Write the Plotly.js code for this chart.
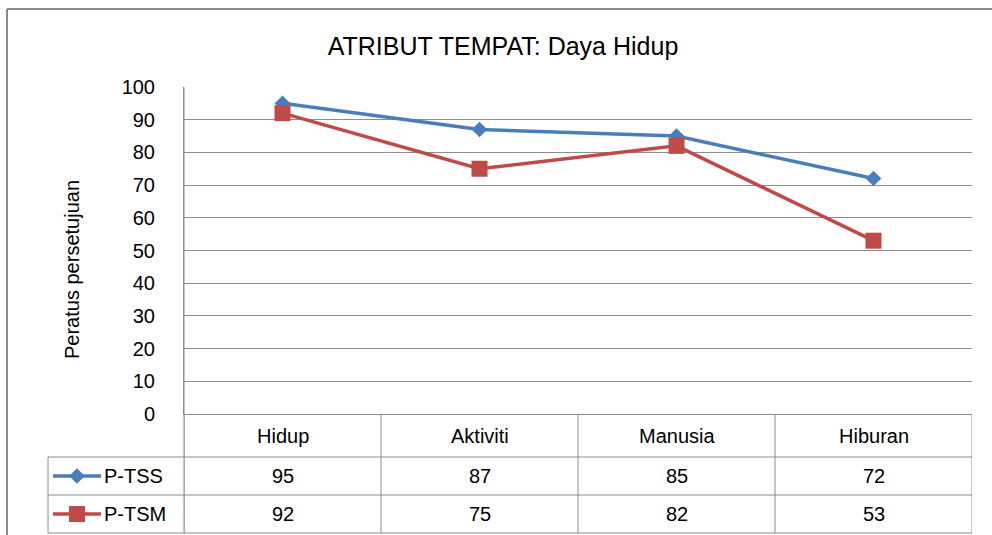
<!DOCTYPE html>
<html>
<head>
<meta charset="utf-8">
<script src="https://cdn.plot.ly/plotly-3.0.1.min.js"></script>
<style>html,body{margin:0;padding:0;background:#fff;}#chart{width:992px;height:535px;}</style>
</head>
<body>
<div id="chart"></div>
<script>
const categories = ["Hidup", "Aktiviti", "Manusia", "Hiburan"];
const seriesNames = ["P-TSS", "P-TSM"];
const pTSS = [95, 87, 85, 72];
const pTSM = [92, 75, 82, 53];
const yTicks = [0, 10, 20, 30, 40, 50, 60, 70, 80, 90, 100];
const chartTitle = "ATRIBUT TEMPAT: Daya Hidup";
const yTitle = "Peratus persetujuan";

const W = 992, H = 535;
const px = v => v / W;
const py = v => (H - v) / H;

const FONT = "Liberation Sans, Arial, sans-serif";
const BLUE = "#4A7EBB", RED = "#BE4B48";
const GRID = "#8c8c8c";

// plot area pixels
const L = 184, R = 972, T = 87, B = 414;
const tableLeft = 48, row1 = 457, row2 = 495, row3 = 533;

const seriesVals = [pTSS, pTSM];
const colors = [BLUE, RED];
const symbols = ["diamond", "square"];
const msizes = [12, 16];

const traces = [];
seriesVals.forEach((vals, i) => {
  traces.push({
    type: "scatter", mode: "lines+markers", x: categories, y: vals, name: seriesNames[i],
    line: {color: colors[i], width: 3.5}, marker: {symbol: symbols[i], size: msizes[i], color: colors[i]},
    xaxis: "x", yaxis: "y", showlegend: false, cliponaxis: false
  });
});
// legend keys inside the data table
seriesVals.forEach((vals, i) => {
  traces.push({
    type: "scatter", mode: "lines", x: [0, 1], y: [1.5 - i, 1.5 - i],
    line: {color: colors[i], width: 3.5},
    xaxis: "x2", yaxis: "y2", showlegend: false, hoverinfo: "skip", cliponaxis: false
  });
  traces.push({
    type: "scatter", mode: "markers", x: [0.5], y: [1.5 - i],
    marker: {symbol: symbols[i], size: msizes[i], color: colors[i]},
    xaxis: "x2", yaxis: "y2", showlegend: false, hoverinfo: "skip", cliponaxis: false
  });
});

const shapes = [];
const line = (x0, y0, x1, y1, xref, yref, color, width) =>
  shapes.push({type: "line", x0, y0, x1, y1, xref: xref || "paper", yref: yref || "paper",
    line: {color: color || GRID, width: width || 1}, layer: "above"});

// outer border (top, left)
line(px(7), py(9), px(1000), py(9), "paper", "paper", "#8a8a8a", 2);
line(px(7), py(9), px(7), py(540), "paper", "paper", "#8a8a8a", 2);

// table horizontal lines
line(px(tableLeft), py(row1), px(R), py(row1));
line(px(tableLeft), py(row2), px(R), py(row2));
line(px(tableLeft), py(row3), px(R), py(row3));
line(px(tableLeft), py(row1), px(tableLeft), py(row3));
// table vertical lines at category boundaries
for (let i = 0; i <= categories.length; i++) {
  shapes.push({type: "line", xref: "x", yref: "paper", x0: i - 0.5, x1: i - 0.5,
    y0: py(B), y1: py(row3), line: {color: GRID, width: 1}});
}
// left axis continuation
line(px(L), py(T), px(L), py(row3));

const annotations = [];
const TXT = 20;
categories.forEach((c, i) => {
  annotations.push({xref: "x", yref: "paper", x: i, y: py((B + row1) / 2), text: c, showarrow: false,
    font: {family: FONT, size: TXT, color: "#000"}, xanchor: "center", yanchor: "middle"});
  seriesVals.forEach((vals, s) => {
    const yc = s === 0 ? (row1 + row2) / 2 : (row2 + row3) / 2;
    annotations.push({xref: "x", yref: "paper", x: i, y: py(yc), text: String(vals[i]), showarrow: false,
      font: {family: FONT, size: TXT, color: "#000"}, xanchor: "center", yanchor: "middle"});
  });
});
seriesNames.forEach((n, s) => {
  const yc = s === 0 ? (row1 + row2) / 2 : (row2 + row3) / 2;
  annotations.push({xref: "paper", yref: "paper", x: px(102), y: py(yc), text: n, showarrow: false,
    font: {family: FONT, size: TXT, color: "#000"}, xanchor: "left", yanchor: "middle"});
});
annotations.push({xref: "paper", yref: "paper", x: px(72), y: py(270), text: yTitle, textangle: -90,
  showarrow: false, font: {family: FONT, size: TXT, color: "#000"}, xanchor: "center", yanchor: "middle"});

const layout = {
  width: W, height: H,
  margin: {l: 0, r: 0, t: 0, b: 0, pad: 0},
  paper_bgcolor: "#fff", plot_bgcolor: "#fff",
  title: {text: chartTitle, x: px(503), y: py(46), xref: "paper", yref: "paper",
    xanchor: "center", yanchor: "middle", font: {family: FONT, size: 25, color: "#000"}},
  xaxis: {domain: [px(L), px(R)], type: "category", range: [-0.5, 3.5], showticklabels: false,
    showgrid: false, zeroline: false, showline: true, linecolor: GRID, linewidth: 1, ticks: "", fixedrange: true},
  yaxis: {domain: [py(B), py(T)], range: [0, 100], tickvals: yTicks, ticktext: yTicks.map(String),
    showgrid: true, gridcolor: GRID, gridwidth: 1, zeroline: false, showline: true, linecolor: GRID,
    ticks: "", ticklabelstandoff: 24, tickfont: {family: FONT, size: TXT, color: "#000"}, fixedrange: true},
  xaxis2: {domain: [px(53), px(101)], range: [0, 1], visible: false, anchor: "y2", fixedrange: true},
  yaxis2: {domain: [py(row3), py(row1)], range: [0, 2], visible: false, anchor: "x2", fixedrange: true},
  shapes, annotations,
  showlegend: false
};

Plotly.newPlot("chart", traces, layout, {displayModeBar: false, staticPlot: true});
</script>
</body>
</html>
